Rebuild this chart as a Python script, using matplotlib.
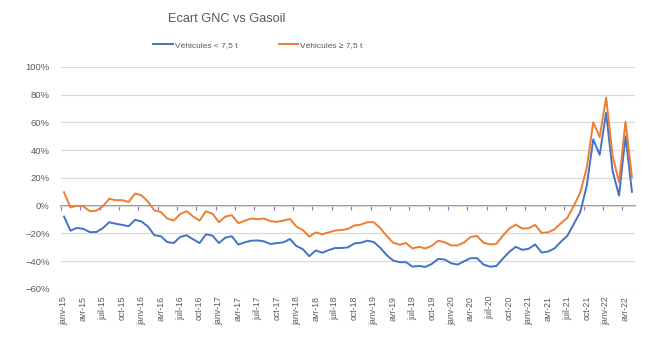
import numpy as np
import matplotlib
matplotlib.use('Agg')
import matplotlib.pyplot as plt
from matplotlib.ticker import PercentFormatter

# monthly months janv-15 .. mai-22
mois = ['janv', 'févr', 'mars', 'avr', 'mai', 'juin',
        'juil', 'août', 'sept', 'oct', 'nov', 'déc']
dates = [m + '-' + str(a) for a in range(15, 23) for m in mois][:89]

# Véhicules < 7,5 t (%)
leger = [-7.8, -18, -16, -16.7, -19, -19, -16.2, -11.9, -13, -13.8,
         -14.8, -10.2, -11.4, -15, -21.3, -22, -26.2, -26.9, -22.5, -21.3,
         -24.2, -26.9, -20.6, -21.6, -26.9, -23, -22, -28, -26.4, -25.2,
         -25, -25.7, -27.6, -26.9, -26.4, -24, -29, -31.3, -36.4, -32.2,
         -33.9, -32, -30.5, -30.5, -30, -27.2, -26.7, -25.2, -26.2, -30.3,
         -35.6, -39.5, -40.7, -40.7, -43.9, -43.4, -44.1, -41.9, -38.3, -38.8,
         -41.5, -42.4, -40, -37.8, -37.8, -42.4, -43.9, -43.4, -38.1, -33.2,
         -29.6, -31.8, -31, -27.9, -33.7, -33, -30.8, -25.9, -21.6, -13.1,
         -4.4, 14.5, 47.8, 36.6, 66.9, 25, 7.3, 50, 10]

# Véhicules >= 7,5 t (%)
lourd = [9.7, -1.2, 0, -0.5, -4, -3.6, -0.5, 5, 4, 4,
         2.7, 8.7, 7.5, 3, -3.4, -4.6, -9.2, -10.7, -6, -4,
         -7.8, -10.7, -4, -5.8, -11.9, -7.8, -6.8, -12.6, -10.9, -9.2,
         -9.7, -9.2, -11.2, -11.6, -10.7, -9.5, -15, -17.5, -22.3, -19.2,
         -20.6, -19.2, -17.9, -17.5, -16.7, -14.3, -13.6, -11.9, -11.9, -16.2,
         -21.8, -26.7, -28.1, -26.9, -30.8, -29.6, -30.8, -28.8, -25.2, -26.4,
         -28.6, -28.6, -26.4, -22.5, -21.8, -26.7, -27.9, -27.4, -21.6, -16.5,
         -13.6, -16.5, -16.2, -13.8, -19.6, -19.2, -17, -12.6, -8.7, 0,
         9.7, 27.4, 60.1, 49.5, 77.8, 35.9, 17, 60.6, 20.8]

gris = '#595959'
plt.rcParams['font.family'] = ['Liberation Sans', 'DejaVu Sans']

fig = plt.figure(figsize=(6.49, 3.52), dpi=100)
ax = fig.add_axes([0.0937, 0.179, 0.885, 0.631])

x = np.arange(len(dates))
ax.plot(x, np.array(leger) / 100, color='#4472C4', lw=1.4, label='Véhicules < 7,5 t')
ax.plot(x, np.array(lourd) / 100, color='#ED7D31', lw=1.4, label='Véhicules ≥ 7,5 t')

ymin, ymax = -0.6, 1.0
ax.set_ylim(ymin, ymax)
ax.set_xlim(-0.5, len(dates) - 0.5)
ax.set_yticks(np.arange(-0.6, 1.01, 0.2))
ax.yaxis.set_major_formatter(PercentFormatter(1.0, decimals=0))
ax.grid(axis='y', color='#d9d9d9', lw=0.9)
ax.set_axisbelow(True)

ax.set_xticks(x[::3])
ax.set_xticklabels(dates[::3], rotation=90)
ax.tick_params(axis='x', length=0, pad=5, labelsize=6.3, labelcolor=gris)
ax.tick_params(axis='y', length=0, pad=8, labelsize=6.8, labelcolor=gris)
for s in ax.spines.values():
    s.set_visible(False)

# category axis crossing at 0, ticks between categories
zero = ax.secondary_xaxis((0 - ymin) / (ymax - ymin))
zero.set_xticks(np.arange(-0.5, len(dates), 3))
zero.tick_params(axis='x', length=3, width=0.8, color='#9966CC', labelbottom=False)
zero.spines['bottom'].set_color('#9966CC')
zero.spines['bottom'].set_linewidth(1.2)

fig.text(227 / 649, 0.945, 'Ecart GNC vs Gasoil', ha='center', va='center',
         fontsize=9.2, color=gris)
ax.legend(loc='center', bbox_to_anchor=(258 / 649, 1 - 45 / 352),
          bbox_transform=fig.transFigure, ncol=2, frameon=False,
          fontsize=6, labelcolor=gris, handlelength=2.3, columnspacing=4.9,
          handletextpad=0.3)

fig.savefig('out.png', dpi=100)
